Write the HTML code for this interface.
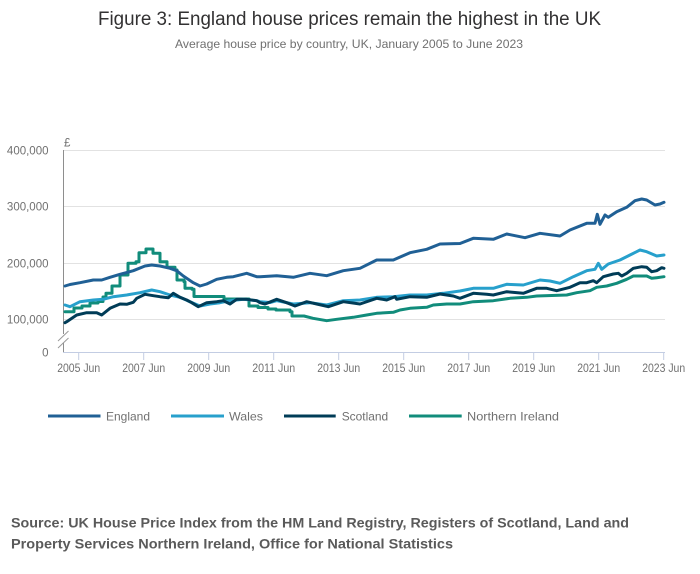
<!DOCTYPE html>
<html>
<head>
<meta charset="utf-8">
<style>
html,body{margin:0;padding:0;background:#fff;}
svg{display:block;}
text{font-family:"Liberation Sans",Arial,sans-serif;}
</style>
</head>
<body>
<svg width="700" height="574" viewBox="0 0 700 574" xmlns="http://www.w3.org/2000/svg">
  <rect width="700" height="574" fill="#fff"/>
  <!-- Title -->
  <text x="98" y="25" font-size="19" fill="#323132" textLength="503" lengthAdjust="spacingAndGlyphs">Figure 3: England house prices remain the highest in the UK</text>
  <text x="175" y="48" font-size="12" fill="#707070" textLength="348" lengthAdjust="spacingAndGlyphs">Average house price by country, UK, January 2005 to June 2023</text>

  <!-- Gridlines -->
  <g stroke="#e2e2e2" stroke-width="1">
    <line x1="63" y1="150.5" x2="665" y2="150.5"/>
    <line x1="63" y1="206.5" x2="665" y2="206.5"/>
    <line x1="63" y1="263.5" x2="665" y2="263.5"/>
    <line x1="63" y1="319.5" x2="665" y2="319.5"/>
  </g>

  <!-- Y axis -->
  <line x1="63.5" y1="150" x2="63.5" y2="334" stroke="#8e8e8e" stroke-width="1"/>
  <line x1="63.5" y1="343" x2="63.5" y2="352" stroke="#8e8e8e" stroke-width="1"/>
  <g stroke="#9a9a9a" stroke-width="1">
    <line x1="58" y1="341" x2="68.5" y2="331"/>
    <line x1="58" y1="348" x2="68.5" y2="338"/>
  </g>

  <!-- Y labels -->
  <g font-size="11.5" fill="#707070" text-anchor="end">
    <text x="48.5" y="154.5">400,000</text>
    <text x="48.5" y="210.5">300,000</text>
    <text x="48.5" y="267.5">200,000</text>
    <text x="48.5" y="323.5">100,000</text>
    <text x="48.5" y="356.5">0</text>
  </g>
  <text x="64" y="146.5" font-size="11.5" fill="#707070">£</text>

  <!-- X axis -->
  <line x1="63" y1="352.5" x2="665" y2="352.5" stroke="#c3cde3" stroke-width="1"/>
  <g stroke="#c3cde3" stroke-width="1">
    <line x1="78.7" y1="352" x2="78.7" y2="360"/>
    <line x1="143.7" y1="352" x2="143.7" y2="360"/>
    <line x1="208.7" y1="352" x2="208.7" y2="360"/>
    <line x1="273.7" y1="352" x2="273.7" y2="360"/>
    <line x1="338.7" y1="352" x2="338.7" y2="360"/>
    <line x1="403.7" y1="352" x2="403.7" y2="360"/>
    <line x1="468.7" y1="352" x2="468.7" y2="360"/>
    <line x1="533.7" y1="352" x2="533.7" y2="360"/>
    <line x1="598.7" y1="352" x2="598.7" y2="360"/>
    <line x1="663.7" y1="352" x2="663.7" y2="360"/>
  </g>
  <g font-size="11.5" fill="#707070" text-anchor="middle">
    <text x="78.7" y="372" textLength="43" lengthAdjust="spacingAndGlyphs">2005 Jun</text>
    <text x="143.7" y="372" textLength="43" lengthAdjust="spacingAndGlyphs">2007 Jun</text>
    <text x="208.7" y="372" textLength="43" lengthAdjust="spacingAndGlyphs">2009 Jun</text>
    <text x="273.7" y="372" textLength="43" lengthAdjust="spacingAndGlyphs">2011 Jun</text>
    <text x="338.7" y="372" textLength="43" lengthAdjust="spacingAndGlyphs">2013 Jun</text>
    <text x="403.7" y="372" textLength="43" lengthAdjust="spacingAndGlyphs">2015 Jun</text>
    <text x="468.7" y="372" textLength="43" lengthAdjust="spacingAndGlyphs">2017 Jun</text>
    <text x="533.7" y="372" textLength="43" lengthAdjust="spacingAndGlyphs">2019 Jun</text>
    <text x="598.7" y="372" textLength="43" lengthAdjust="spacingAndGlyphs">2021 Jun</text>
    <text x="663.7" y="372" textLength="43" lengthAdjust="spacingAndGlyphs">2023 Jun</text>
  </g>

  <!-- Series -->
  <g fill="none" stroke-width="3" stroke-linejoin="round" stroke-linecap="round">
    <!-- Northern Ireland -->
    <path stroke="#118c7b" d="M65,311.7 H74 V308 H82 V306 H90 V303 H98 V301.5 H103 V297 H106 V293.3 H112 V286 H120 V275 H128 V263.3 H136 V261.7 H139 V252.7 H146 V249 H153 V253.3 H160 V261.7 H167 V267.3 H175 V270 H177 V280 H184 V281.7 H185 V288.3 H192 V289.3 H194 V296.5 H224 V299 H249 V306 H258 V307.5 H268 V309 H276 V310 H290 V311.7 H292 V316 H304 L313,318.3 L326.7,320.7 L336.7,319.3 L353.3,317.3 L366.7,315 L376.7,313.3 L393.3,312.3 L400,310 L410,308.3 L426.7,307.3 L433.3,305 L446.7,304 L460,304 L473.3,301.7 L493.3,300.7 L510,298.3 L526.7,297.3 L536.7,296 L566.7,295 L576.7,292.7 L590,290.7 L596.7,287.3 L606.7,286 L616.7,283.3 L626.7,279.3 L633.3,276 L646.7,276 L651.7,278.3 L656.7,277.7 L664,276.7"/>
    <!-- Wales -->
    <polyline stroke="#27a0cc" points="65,305 70,306.7 80,301.7 93.3,300 103.3,299.3 113.3,296.7 126.7,295 140,292.7 151.7,290 160,291.7 170,295 180,297.3 190,301.7 200,306 210,304 220,302.7 230,300.7 243.3,299.3 256.7,300.7 260,301.7 270,302.5 276.7,300.7 293.3,304 310,302.7 326.7,305 343.3,300.7 360,300 376.7,297.3 393.3,296.7 410,295 426.7,295 443.3,293.3 460,291 470,289 473.3,288.3 493.3,288.3 506.7,284.3 523.3,285 540,280 550,281 560,283.3 573.3,276.7 586.7,270.7 595,269.3 598.3,263.3 601.7,269.3 608.3,264 620,260 630,255 640,250 646.7,251.7 656.7,256 664,255"/>
    <!-- Scotland -->
    <polyline stroke="#003c57" points="65,322.7 66.7,321.7 76.7,315 86.7,312.7 96.7,312.7 101.7,315 110,308.3 120,304 126.7,304.3 133.3,302.3 136.7,298.3 145,294.3 153.3,295.7 160,296.7 168.3,297.7 173.3,293.3 180,297.3 186.7,300 191.7,302.7 198.3,306.7 206.7,302.7 216.7,301.7 223.3,300.7 230,304 236.7,299.3 246.7,299.3 256.7,300.7 260,302.7 265,304 276.7,299.3 286.7,302.7 295,306 306.7,301.7 316.7,304 328.3,306.7 343.3,301.7 360,304 376.7,298.3 386.7,300 395,296.7 396.7,299.3 410,296.7 426.7,297.3 440,294 453.3,296 460,298.3 473.3,293.3 486.7,294.3 493.3,295 506.7,291.7 523.3,293.3 536.7,288.3 546.7,288.3 556.7,290.7 570,287.3 580,282.7 586.7,282.7 593.3,280.7 596.7,282.7 603.3,276.7 613.3,274 618.3,273.3 621.7,276 626.7,273.3 633.3,268.3 641.7,266.7 646.7,267.3 651.7,271.7 656.7,270.7 661.7,267.7 664,268.3"/>
    <!-- England -->
    <polyline stroke="#206095" points="65,286 70,284.5 80,282.7 93.3,280 101.7,280 110,277.3 120,274.3 133.3,270.7 145,266 151.7,265 160,266 170,268.3 176.7,270.7 183.3,276 193.3,282.7 200,286 206.7,284 216.7,279.3 226.7,277.3 233.3,276.7 246.7,273.3 256.7,276.7 260,276.7 276.7,275.7 293.3,277.3 310,273.3 326.7,275.7 343.3,270.7 360,268.3 376.7,260 393.3,260 410,252.7 426.7,249.3 440,244 460,243.5 473.3,238.3 493.3,239.3 506.7,234 525,237.7 540,233.3 560,236 570,230 586.7,223.3 595,223.3 597.3,214.3 600,224.3 605,215 608.3,217.3 616.7,211.7 626.7,207.3 635,200.7 641.7,199 646.7,200 655,205 660,204 664,202.3"/>
  </g>

  <!-- Legend -->
  <g stroke-width="3">
    <line x1="48" y1="416" x2="100.5" y2="416" stroke="#206095"/>
    <line x1="171" y1="416" x2="224" y2="416" stroke="#27a0cc"/>
    <line x1="284" y1="416" x2="335.7" y2="416" stroke="#003c57"/>
    <line x1="409" y1="416" x2="461.7" y2="416" stroke="#118c7b"/>
  </g>
  <g font-size="12" fill="#707070">
    <text x="106" y="420.5" textLength="44" lengthAdjust="spacingAndGlyphs">England</text>
    <text x="229" y="420.5" textLength="34" lengthAdjust="spacingAndGlyphs">Wales</text>
    <text x="341.7" y="420.5" textLength="46.5" lengthAdjust="spacingAndGlyphs">Scotland</text>
    <text x="467" y="420.5" textLength="92" lengthAdjust="spacingAndGlyphs">Northern Ireland</text>
  </g>

  <!-- Footer -->
  <g font-size="14" font-weight="bold" fill="#5a5a5a">
    <text x="11" y="527.5" textLength="618" lengthAdjust="spacingAndGlyphs">Source: UK House Price Index from the HM Land Registry, Registers of Scotland, Land and</text>
    <text x="11" y="548.5" textLength="442" lengthAdjust="spacingAndGlyphs">Property Services Northern Ireland, Office for National Statistics</text>
  </g>
</svg>
</body>
</html>
